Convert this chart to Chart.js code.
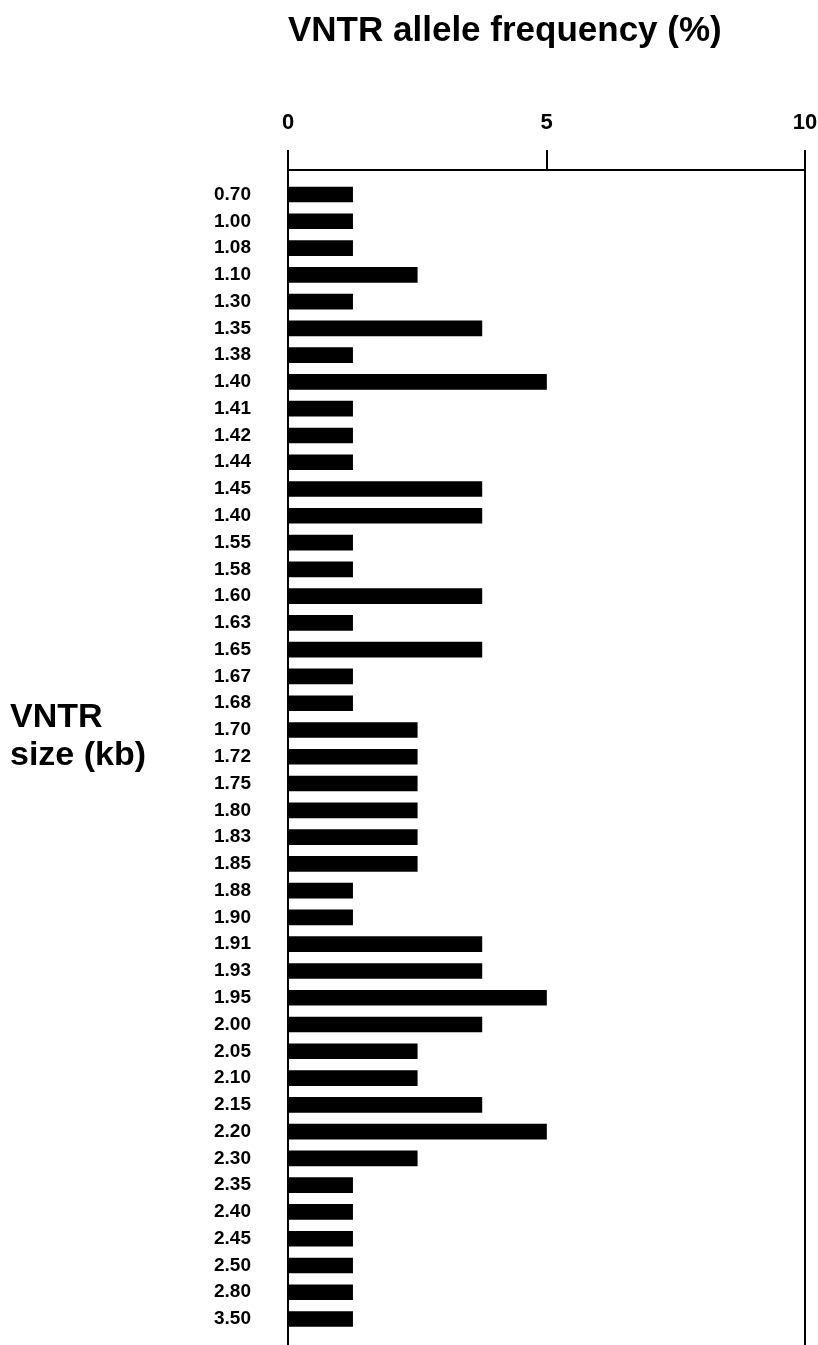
<!DOCTYPE html>
<html>
<head>
<meta charset="utf-8">
<script src="https://cdn.jsdelivr.net/npm/chart.js@4.4.0/dist/chart.umd.min.js"></script>
<style>
  html, body { margin: 0; padding: 0; background: #fff; }
  #wrap { position: relative; width: 818px; height: 1345px; overflow: hidden; }
  #ytitle {
    position: absolute; left: 10px; top: 696px;
    font: bold 34px "Liberation Sans", Arial, sans-serif; line-height: 38px; color: #000;
  }
</style>
</head>
<body>
<div id="wrap">
  <canvas id="c" width="818" height="1345"></canvas>
  <div id="ytitle">VNTR<br>size (kb)</div>
</div>
<script>
// VNTR sizes (kb), top to bottom as printed
const sizeLabels = ["0.70","1.00","1.08","1.10","1.30","1.35","1.38","1.40","1.41","1.42","1.44","1.45","1.40","1.55","1.58","1.60","1.63","1.65","1.67","1.68","1.70","1.72","1.75","1.80","1.83","1.85","1.88","1.90","1.91","1.93","1.95","2.00","2.05","2.10","2.15","2.20","2.30","2.35","2.40","2.45","2.50","2.80","3.50"];
// allele frequency (%)
const frequency = [1.25,1.25,1.25,2.5,1.25,3.75,1.25,5,1.25,1.25,1.25,3.75,3.75,1.25,1.25,3.75,1.25,3.75,1.25,1.25,2.5,2.5,2.5,2.5,2.5,2.5,1.25,1.25,3.75,3.75,5,3.75,2.5,2.5,3.75,5,2.5,1.25,1.25,1.25,1.25,1.25,1.25];
const xTicks = [0, 5, 10];
const xTitle = "VNTR allele frequency (%)";

const FONT = '"Liberation Sans", Arial, sans-serif';

new Chart(document.getElementById('c'), {
  type: 'bar',
  data: {
    datasets: [{
      data: frequency.map((v, i) => ({ x: v, y: i })),
      backgroundColor: '#000',
      borderWidth: 0,
      barThickness: 15
    }]
  },
  options: {
    indexAxis: 'y',
    responsive: false,
    animation: false,
    layout: { padding: { left: 0, right: 13, top: 0, bottom: 0 } },
    plugins: { legend: { display: false }, tooltip: { enabled: false } },
    scales: {
      x: {
        type: 'linear',
        position: 'top',
        min: 0, max: 10,
        afterBuildTicks: s => { s.ticks = xTicks.map(v => ({ value: v })); },
        afterFit: s => { s.height = 170; s.paddingLeft = 0; s.paddingRight = 0; },
        ticks: { color: '#000', padding: 14, font: { family: FONT, size: 22, weight: 'bold' } },
        grid: {
          drawTicks: true,
          tickLength: 20,
          lineWidth: 2,
          tickWidth: 2,
          tickColor: '#000',
          color: ctx => (ctx.tick && ctx.tick.value === 10) ? '#000' : 'rgba(0,0,0,0)'
        },
        border: { display: true, color: '#000', width: 2 },
        title: {
          display: true, text: xTitle, align: 'start', color: '#000',
          padding: { top: 10, bottom: 0 },
          font: { family: FONT, size: 35, weight: 'bold' }
        }
      },
      y: {
        type: 'linear',
        reverse: true,
        offset: false,
        min: -0.915, max: 42.97,
        afterBuildTicks: s => { s.ticks = sizeLabels.map((_, i) => ({ value: i })); },
        afterFit: s => { s.width = 288; s.paddingTop = 0; s.paddingBottom = 0; },
        ticks: {
          autoSkip: false, color: '#000', padding: 37,
          font: { family: FONT, size: 19, weight: 'bold' },
          callback: v => sizeLabels[v] !== undefined ? sizeLabels[v] : ''
        },
        grid: { display: true, offset: false, drawTicks: false, color: 'rgba(0,0,0,0)' },
        border: { display: true, color: '#000', width: 2 }
      }
    }
  }
});
</script>
</body>
</html>
